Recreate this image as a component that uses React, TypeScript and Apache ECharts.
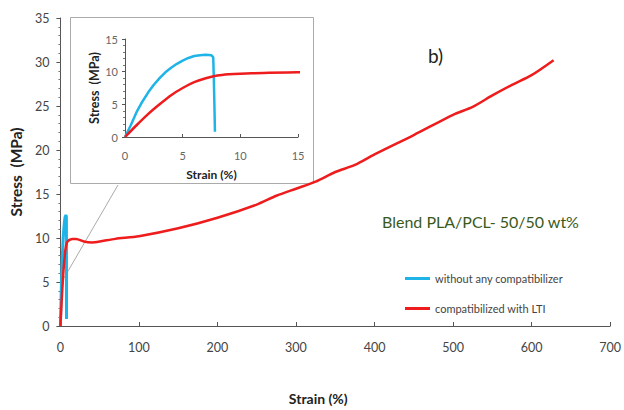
import React, { useEffect, useRef } from "react";
import * as echarts from "echarts";

const seriesNames = ["without any compatibilizer", "compatibilized with LTI"];
const blueData: number[][] = [
  [0, 0], [0.5, 1.8], [1, 3.8], [1.5, 5.4], [2, 6.8], [2.5, 8], [3, 9], [3.5, 9.9],
  [4, 10.6], [4.5, 11.2], [5, 11.7], [5.5, 12.1], [6, 12.4], [6.5, 12.5], [7, 12.6],
  [7.5, 12.5], [7.65, 12.2], [7.7, 9], [7.75, 5], [7.8, 0.8],
];
const redData: number[][] = [
  [0, 0], [1, 1.8], [2, 3.5], [3, 5], [4, 6.4], [5, 7.5], [6, 8.4], [7, 9], [8, 9.4],
  [9, 9.6], [10, 9.7], [12, 9.8], [15, 9.9], [20, 9.9], [30, 9.6], [40, 9.5], [50, 9.6],
  [70, 9.9], [100, 10.2], [150, 11.1], [200, 12.3], [250, 13.8], [275, 14.8], [300, 15.6],
  [325, 16.4], [350, 17.5], [375, 18.3], [400, 19.5], [450, 21.7], [500, 24], [525, 24.9],
  [550, 26.2], [575, 27.4], [600, 28.5], [628, 30.2],
];
const mainXTicks = { min: 0, max: 700, interval: 100 };
const mainYTicks = { min: 0, max: 35, interval: 5 };
const insetXTicks = { min: 0, max: 15, interval: 5 };
const insetYTicks = { min: 0, max: 15, interval: 5 };

const BLUE = "#1fb4e8";
const RED = "#ee1c1c";
const FONT = "Lato";

export default function App() {
  const ref = useRef<HTMLDivElement>(null);
  useEffect(() => {
    if (!ref.current) return;
    const chart = echarts.init(ref.current, null, { renderer: "svg" });
    const axisLine = { show: true, lineStyle: { color: "#555", width: 1 } };
    chart.setOption({
      animation: false,
      backgroundColor: "#fff",
      textStyle: { fontFamily: FONT },
      grid: [
        { left: 57, right: 9, top: 18, bottom: 77 },
        { left: 125, top: 39, width: 173, height: 98 },
      ],
      legend: {
        orient: "vertical",
        left: 400,
        top: 268,
        itemGap: 19,
        itemWidth: 25,
        itemHeight: 3,
        icon: "rect",
        textStyle: { fontSize: 11, color: "#444", fontFamily: FONT },
        data: seriesNames,
      },
      xAxis: [
        {
          gridIndex: 0, type: "value", ...mainXTicks,
          name: "Strain (%)", nameLocation: "middle", nameGap: 65,
          nameTextStyle: { fontSize: 14, fontWeight: "bold", color: "#222", padding: [0, 34, 0, 0] },
          axisLine, axisTick: { inside: true, length: 4, lineStyle: { color: "#555" } },
          axisLabel: { fontSize: 12.5, color: "#444", margin: 15 },
          splitLine: { show: false },
        },
        {
          gridIndex: 1, type: "value", ...insetXTicks,
          name: "Strain (%)", nameLocation: "middle", nameGap: 31,
          nameTextStyle: { fontSize: 12, fontWeight: "bold", color: "#222" },
          axisLine, axisTick: { inside: true, length: 3, lineStyle: { color: "#555" } },
          axisLabel: { fontSize: 11, color: "#666", margin: 13 },
          splitLine: { show: false },
        },
      ],
      yAxis: [
        {
          gridIndex: 0, type: "value", ...mainYTicks,
          name: "Stress  (MPa)", nameLocation: "middle", nameGap: 29,
          nameTextStyle: { fontSize: 15.5, fontWeight: "bold", color: "#222" },
          axisLine, axisTick: { length: 4, lineStyle: { color: "#555" } },
          minorTick: { show: true, splitNumber: 5, length: 2, lineStyle: { color: "#777" } },
          axisLabel: { fontSize: 12.5, color: "#444", margin: 11 },
          splitLine: { show: false },
        },
        {
          gridIndex: 1, type: "value", ...insetYTicks,
          name: "Stress  (MPa)", nameLocation: "middle", nameGap: 23,
          nameTextStyle: { fontSize: 12.5, fontWeight: "bold", color: "#222" },
          axisLine, axisTick: { length: 3, lineStyle: { color: "#555" } },
          minorTick: { show: true, splitNumber: 5, length: 2, lineStyle: { color: "#777" } },
          axisLabel: { fontSize: 11, color: "#666", margin: 7 },
          splitLine: { show: false },
        },
      ],
      series: [
        {
          name: seriesNames[0], type: "line", xAxisIndex: 0, yAxisIndex: 0,
          data: blueData, showSymbol: false, symbol: "none",
          lineStyle: { color: BLUE, width: 3 }, itemStyle: { color: BLUE },
        },
        {
          name: seriesNames[1], type: "line", xAxisIndex: 0, yAxisIndex: 0,
          data: redData, showSymbol: false, symbol: "none", smooth: 0.25,
          lineStyle: { color: RED, width: 2.5 }, itemStyle: { color: RED },
        },
        {
          name: seriesNames[0], type: "line", xAxisIndex: 1, yAxisIndex: 1,
          data: blueData, showSymbol: false, symbol: "none", clip: true,
          lineStyle: { color: BLUE, width: 2.5 }, itemStyle: { color: BLUE },
        },
        {
          name: seriesNames[1], type: "line", xAxisIndex: 1, yAxisIndex: 1,
          data: redData, showSymbol: false, symbol: "none", clip: true, smooth: 0.25,
          lineStyle: { color: RED, width: 2.5 }, itemStyle: { color: RED },
        },
      ],
      graphic: [
        {
          type: "rect", z: -10,
          shape: { x: 70.5, y: 17.5, width: 243, height: 166 },
          style: { fill: "#fff", stroke: "#aaa", lineWidth: 1 },
        },
        {
          type: "line", z: -10,
          shape: { x1: 118, y1: 185, x2: 64, y2: 278 },
          style: { stroke: "#aaa", lineWidth: 1 },
        },
        {
          type: "text", x: 428, y: 55,
          style: { text: "b)", fontSize: 19, fill: "#222", fontFamily: FONT, verticalAlign: "middle" },
        },
        {
          type: "text", x: 382, y: 221,
          style: {
            text: "Blend PLA/PCL- 50/50 wt%", fontSize: 16, fill: "#3a5a1c",
            fontFamily: FONT, verticalAlign: "middle",
          },
        },
      ],
    });
    return () => chart.dispose();
  }, []);
  return (
    <div
      ref={ref}
      style={{ position: "absolute", left: 0, top: 0, width: 624, height: 410 }}
    />
  );
}
